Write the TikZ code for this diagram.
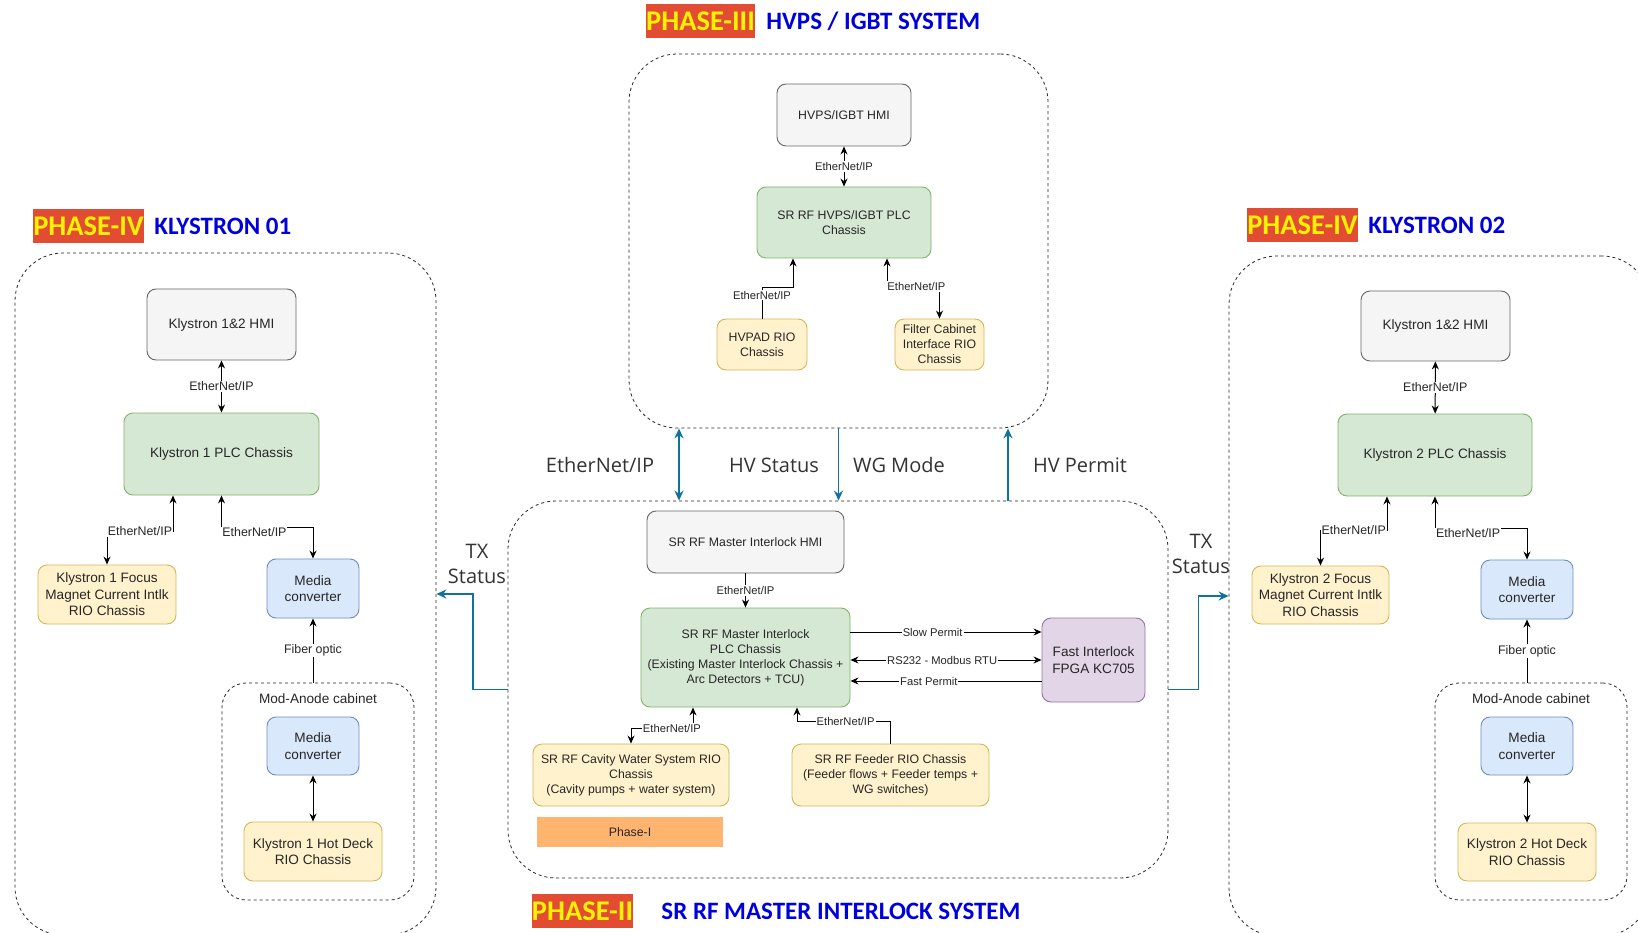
\documentclass[tikz,border=0pt]{standalone}
\usepackage{fontspec}
\setmainfont{Liberation Sans}
\newfontfamily\headfont{Carlito}
\newfontfamily\notefont{Open Sans}
\usepackage{xcolor}
\usepackage{tikz}
\usetikzlibrary{arrows.meta, positioning, calc}
\definecolor{hmifill}{HTML}{F5F5F5}
\definecolor{hmiline}{HTML}{666666}
\definecolor{plcfill}{HTML}{D5E8D4}
\definecolor{plcline}{HTML}{82B366}
\definecolor{riofill}{HTML}{FFF2CC}
\definecolor{rioline}{HTML}{D6B656}
\definecolor{mcfill}{HTML}{DAE8FC}
\definecolor{mcline}{HTML}{6C8EBF}
\definecolor{fpgafill}{HTML}{E1D5E7}
\definecolor{fpgaline}{HTML}{9673A6}
\definecolor{phaseorange}{HTML}{FFB570}
\definecolor{linkblue}{HTML}{10739E}
\definecolor{phasered}{RGB}{226, 76, 50}
\definecolor{titleblue}{RGB}{0, 0, 220}
\newcommand{\fsbig}{\fontsize{13.6}{16.5}\selectfont}
\newcommand{\fsmid}{\fontsize{12.3}{15}\selectfont}
\newcommand{\fslbl}{\fontsize{12.4}{14}\selectfont}
\newcommand{\fslbs}{\fontsize{11.2}{13}\selectfont}
\newcommand{\fsnote}{\notefont\fontsize{20}{25}\selectfont}
\newcommand{\fshead}{\headfont\bfseries\fontsize{25}{28}\selectfont}
\newcommand{\fstag}{\headfont\bfseries\fontsize{28.5}{30}\selectfont}

\begin{document}
\begin{tikzpicture}[x=1pt, y=-1pt,
    box/.style={draw=#1line, fill=#1fill, rounded corners=9pt, line width=0.9pt,
                align=center, inner sep=2pt, text=black!85},
    zone/.style={draw=black!85, line width=0.8pt, dash pattern=on 3pt off 3pt,
                 rounded corners=#1},
    zone/.default=48pt,
    link/.style={draw=black, line width=1pt},
    arr/.style={link, -{Stealth[length=8pt, width=7pt]}},
    biarr/.style={link, {Stealth[length=8pt, width=7pt]}-{Stealth[length=8pt, width=7pt]}},
    bluearr/.style={draw=linkblue, line width=1.8pt, -{Stealth[length=10pt, width=9pt]}},
    bibluearr/.style={draw=linkblue, line width=1.8pt,
                      {Stealth[length=10pt, width=9pt]}-{Stealth[length=10pt, width=9pt]}},
    lbl/.style={fill=white, inner sep=1pt, font=\fslbl, text=black!85},
    lbls/.style={fill=white, inner sep=1pt, font=\fslbs, text=black!85},
    phasetag/.style={fill=phasered, text=yellow, font=\fstag, inner sep=0pt, minimum height=34},
    phasetitle/.style={text=titleblue, font=\fshead, inner sep=0pt},
    note/.style={font=\fsnote, text=black!80, align=center, inner sep=0pt}
]
    \useasboundingbox (0,0) rectangle (1638,933);
    \clip (0,0) rectangle (1638,933);

    % phase headings
    \node[phasetag, minimum width=109] (p3tag) at (700.5,21) {PHASE-III};
    \node[phasetitle, right=11pt of p3tag] (p3title) {HVPS / IGBT SYSTEM};
    \node[phasetag, minimum width=111] (p4atag) at (88.5,226) {PHASE-IV};
    \node[phasetitle, right=10pt of p4atag] (p4atitle) {KLYSTRON 01};
    \node[phasetag, minimum width=111] (p4btag) at (1302.5,225.5) {PHASE-IV};
    \node[phasetitle, right=10pt of p4btag] (p4btitle) {KLYSTRON 02};
    \node[phasetag, minimum width=101] (p2tag) at (582.5,911) {PHASE-II};
    \node[phasetitle, right=28pt of p2tag] (p2title) {SR RF MASTER INTERLOCK SYSTEM};

    % dashed containers
    \node[zone, minimum width=419, minimum height=374] (hvbox) at (838.5,241) {};
    \node[zone, minimum width=421, minimum height=682] (k1box) at (225.5,594) {};
    \node[zone, minimum width=421, minimum height=680] (k2box) at (1439.5,596) {};
    \node[zone, minimum width=660, minimum height=377] (mst) at (838,689.5) {};
    \node[zone=24pt, minimum width=192, minimum height=217] (k1mod) at (318,791.5) {};
    \node[zone=24pt, minimum width=192, minimum height=217] (k2mod) at (1531,791.5) {};

    % HVPS / IGBT
    \node[box=hmi, font=\fsmid, minimum width=134, minimum height=62] (hvhmi) at (844,115) {HVPS/IGBT HMI};
    \node[box=plc, font=\fsmid, minimum width=174, minimum height=71] (hvplc) at (844,222.5) {SR RF HVPS/IGBT PLC\\Chassis};
    \node[box=rio, font=\fsmid, minimum width=90, minimum height=51] (hvpad) at (762,344.5) {HVPAD RIO\\Chassis};
    \node[box=rio, font=\fsmid, minimum width=89, minimum height=51] (filt) at (939.5,344.5) {Filter Cabinet\\Interface RIO\\Chassis};

    % Klystron 01
    \node[box=hmi, font=\fsbig, minimum width=149, minimum height=71] (k1hmi) at (221.5,324.5) {Klystron 1\&2 HMI};
    \node[box=plc, font=\fsbig, minimum width=195, minimum height=82] (k1plc) at (221.5,454) {Klystron 1 PLC Chassis};
    \node[box=rio, font=\fsbig, minimum width=138, minimum height=59] (k1foc) at (107,594.5) {Klystron 1 Focus\\Magnet Current Intlk\\RIO Chassis};
    \node[box=mc, font=\fsbig, minimum width=92, minimum height=59] (k1mc) at (313,588.5) {Media\\converter};
    \node[box=mc, font=\fsbig, minimum width=92, minimum height=58] (k1mc2) at (313,746) {Media\\converter};
    \node[box=rio, font=\fsbig, minimum width=138, minimum height=59] (k1hot) at (313,851.5) {Klystron 1 Hot Deck\\RIO Chassis};
    \node[font=\fsbig, text=black!85, inner sep=0pt, below=11pt of k1mod.north] (k1modlbl) {Mod-Anode cabinet};

    % Klystron 02
    \node[box=hmi, font=\fsbig, minimum width=149, minimum height=70] (k2hmi) at (1435.5,326) {Klystron 1\&2 HMI};
    \node[box=plc, font=\fsbig, minimum width=194, minimum height=82] (k2plc) at (1435,455) {Klystron 2 PLC Chassis};
    \node[box=rio, font=\fsbig, minimum width=137, minimum height=58] (k2foc) at (1320.5,595) {Klystron 2 Focus\\Magnet Current Intlk\\RIO Chassis};
    \node[box=mc, font=\fsbig, minimum width=92, minimum height=59] (k2mc) at (1527,589.5) {Media\\converter};
    \node[box=mc, font=\fsbig, minimum width=92, minimum height=58] (k2mc2) at (1527,746) {Media\\converter};
    \node[box=rio, font=\fsbig, minimum width=138, minimum height=58] (k2hot) at (1527,852) {Klystron 2 Hot Deck\\RIO Chassis};
    \node[font=\fsbig, text=black!85, inner sep=0pt, below=11pt of k2mod.north] (k2modlbl) {Mod-Anode cabinet};

    % master interlock
    \node[box=hmi, font=\fsmid, minimum width=197, minimum height=62] (mhmi) at (745.5,542) {SR RF Master Interlock HMI};
    \node[box=plc, font=\fsmid, minimum width=209, minimum height=99] (mplc) at (745.5,657.5) {SR RF Master Interlock\\PLC Chassis\\(Existing Master Interlock Chassis +\\Arc Detectors + TCU)};
    \node[box=fpga, font=\fsbig, minimum width=103, minimum height=84] (fpga) at (1093.5,660) {Fast Interlock\\FPGA KC705};
    \node[box=rio, font=\fsmid, minimum width=196, minimum height=62] (cav) at (631,775) {SR RF Cavity Water System RIO\\Chassis\\(Cavity pumps + water system)};
    \node[box=rio, font=\fsmid, minimum width=197, minimum height=62] (feed) at (890.5,775) {SR RF Feeder RIO Chassis\\(Feeder flows + Feeder temps +\\WG switches)};
    \node[fill=phaseorange, font=\fsmid, text=black!85, minimum width=186, minimum height=30] (ph1) at (630,832) {Phase-I};

    % signal names between the systems
    \node[note] (nEth) at (600,465) {EtherNet/IP};
    \node[note] (nHVs) at (774,465) {HV Status};
    \node[note] (nWG) at (899,465) {WG Mode};
    \node[note] (nHVp) at (1080,465) {HV Permit};
    \node[note] (nTXa) at (477,564) {TX\\Status};
    \node[note] (nTXb) at (1201,554) {TX\\Status};

    % HVPS links
    \draw[biarr] (hvhmi) -- (hvplc) node[lbls, midway] {EtherNet/IP};
    \draw[arr] (hvpad.north) -- node[lbls, pos=0.75] {EtherNet/IP} ++(0,-31) -| ($(hvplc.south)+(-51,0)$);
    \draw[biarr] ($(hvplc.south)+(43,0)$) -- ++(0,28) -| node[lbls, pos=0.28] {EtherNet/IP} (filt.north);

    % Klystron 01 links
    \draw[biarr] (k1hmi) -- (k1plc) node[lbl, midway] {EtherNet/IP};
    \draw[biarr] ($(k1plc.south)+(-48.5,0)$) -- ++(0,36) -| node[lbl, pos=0.25] {EtherNet/IP} (k1foc.north);
    \draw[biarr] (k1plc.south) -- ++(0,32) -| node[lbl, pos=0.18, yshift=-5pt] {EtherNet/IP} (k1mc.north);
    \draw[arr] (k1mc.south |- k1mod.north) -- (k1mc.south) node[lbl, midway] {Fiber optic};
    \draw[biarr] (k1mc2) -- (k1hot);

    % Klystron 02 links
    \draw[biarr] (k2hmi) -- (k2plc) node[lbl, midway] {EtherNet/IP};
    \draw[biarr] ($(k2plc.south)+(-48,0)$) -- ++(0,34) -| node[lbl, pos=0.25] {EtherNet/IP} (k2foc.north);
    \draw[biarr] (k2plc.south) -- ++(0,32) -| node[lbl, pos=0.18, yshift=-5pt] {EtherNet/IP} (k2mc.north);
    \draw[arr] (k2mc.south |- k2mod.north) -- (k2mc.south) node[lbl, midway] {Fiber optic};
    \draw[biarr] (k2mc2) -- (k2hot);

    % master interlock links
    \draw[arr] (mhmi) -- (mplc) node[lbls, midway] {EtherNet/IP};
    \draw[biarr] ($(mplc.south)+(-52.5,0)$) -- ++(0,21) -| node[lbls, pos=0.17] {EtherNet/IP} (cav.north);
    \draw[arr] (feed.north) -- ++(0,-22) -| node[lbls, pos=0.24] {EtherNet/IP} ($(mplc.south)+(51.5,0)$);
    \draw[arr] ($(mplc.east)+(0,-25.5)$) coordinate (slowp) -- (slowp -| fpga.west) node[lbls, pos=0.43] {Slow Permit};
    \draw[biarr] (mplc.east |- fpga.west) -- (fpga.west) node[lbls, pos=0.48] {RS232 - Modbus RTU};
    \draw[arr] ($(fpga.west)+(0,21)$) coordinate (fastp) -- (fastp -| mplc.east) node[lbls, pos=0.59] {Fast Permit};

    % links between the systems
    \draw[bibluearr] ($(hvbox.south)+(-159.5,0)$) coordinate (ethtop) -- (ethtop |- mst.north);
    \draw[bluearr] (hvbox.south) -- (hvbox.south |- mst.north);
    \draw[bluearr] ($(mst.north)+(170,0)$) coordinate (hvpbot) -- (hvpbot |- hvbox.south);
    \draw[bluearr] (mst.west) -- ++(-35,0) |- (k1box.east);
    \draw[bluearr] (mst.east) -- ++(30,0) |- (k2box.west);
\end{tikzpicture}
\end{document}
